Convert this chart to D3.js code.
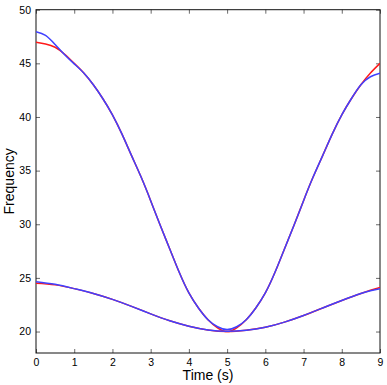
<!DOCTYPE html>
<html>
<head>
<meta charset="utf-8">
<script src="https://cdn.jsdelivr.net/npm/d3@7"></script>
<style>
  html, body { margin: 0; padding: 0; background: #fff; }
  svg { display: block; }
  text { font-family: "Liberation Sans", Arial, Helvetica, sans-serif; fill: #000; }
</style>
</head>
<body>
<svg id="chart" width="387" height="385"></svg>
<script>
// ---- data ----
const timeFine = [0,0.25,0.5,0.75,1,1.25,1.5,1.75,2,2.25,2.5,2.75,3,3.25,3.5,3.75,4,4.25,4.5,4.75,5,
                  5.25,5.5,5.75,6,6.25,6.5,6.75,7,7.25,7.5,7.75,8,8.25,8.5,8.75,9];
const bigRed  = [46.96,46.8,46.5,45.85,45.0,44.1,43.0,41.7,40.2,38.4,36.4,34.4,32.2,29.9,27.7,25.5,23.6,22.2,21.1,20.35,20.0,
                 20.35,21.1,22.2,23.6,25.5,27.7,29.9,32.2,34.4,36.4,38.4,40.2,41.7,43.0,44.1,45.0];
const bigBlue = [47.95,47.6,46.75,45.8,44.95,44.1,43.0,41.7,40.2,38.4,36.4,34.4,32.2,29.9,27.7,25.5,23.6,22.2,21.1,20.45,20.18,
                 20.45,21.1,22.2,23.6,25.5,27.7,29.9,32.2,34.4,36.4,38.4,40.2,41.7,43.0,43.75,44.07];
const timeCoarse = [0,0.5,1,1.5,2,2.5,3,3.5,4,4.5,5,5.5,6,6.5,7,7.5,8,8.5,8.75,9];
const smallRed  = [24.5,24.35,24.0,23.55,23.0,22.35,21.65,21.0,20.5,20.15,20.0,20.12,20.4,20.88,21.5,22.2,22.9,23.55,23.85,24.12];
const smallBlue = [24.65,24.4,24.0,23.55,23.0,22.35,21.65,21.0,20.5,20.15,20.02,20.12,20.4,20.88,21.5,22.2,22.9,23.55,23.8,24.0];
const xTicks = [0,1,2,3,4,5,6,7,8,9];
const yTicks = [20,25,30,35,40,45,50];
const xLabel = "Time (s)";
const yLabel = "Frequency";

// ---- layout ----
const svg = d3.select("#chart");
const L = 36, R = 380, T = 9.7, B = 353;
const x = d3.scaleLinear().domain([0, 9]).range([L, R]);
const y = d3.scaleLinear().domain([18, 50]).range([B, T]);
const tickLen = 4;

// axes
const gx = svg.append("g").attr("transform", `translate(0,${B})`)
  .call(d3.axisBottom(x).tickValues(xTicks).tickSize(-tickLen).tickPadding(6).tickFormat(d3.format("d")));
const gxTop = svg.append("g").attr("transform", `translate(0,${T})`)
  .call(d3.axisTop(x).tickValues(xTicks).tickSize(-tickLen).tickFormat(""));
const gy = svg.append("g").attr("transform", `translate(${L},0)`)
  .call(d3.axisLeft(y).tickValues(yTicks).tickSize(-tickLen).tickPadding(5).tickFormat(d3.format("d")));
const gyR = svg.append("g").attr("transform", `translate(${R},0)`)
  .call(d3.axisRight(y).tickValues(yTicks).tickSize(-tickLen).tickFormat(""));

[gx, gxTop, gy, gyR].forEach(g => {
  g.select(".domain").remove();
  g.selectAll(".tick line").attr("stroke", "#444").attr("stroke-width", 0.8);
  g.selectAll(".tick text").attr("font-size", 10.5).attr("fill", "#000")
    .style("font-family", "'Liberation Sans', Arial, sans-serif");
});

// box
svg.append("rect").attr("x", L).attr("y", T).attr("width", R - L).attr("height", B - T)
  .attr("fill", "none").attr("stroke", "#111").attr("stroke-width", 1);

// lines
svg.append("clipPath").attr("id", "clip").append("rect")
  .attr("x", L).attr("y", T).attr("width", R - L).attr("height", B - T);
const line = d3.line().x(d => x(d[0])).y(d => y(d[1])).curve(d3.curveNatural);
const plot = svg.append("g").attr("clip-path", "url(#clip)");
const series = [
  { t: timeFine, v: bigRed, c: "#ff1a1a" },
  { t: timeCoarse, v: smallRed, c: "#ff1a1a" },
  { t: timeFine, v: bigBlue, c: "#4040ff" },
  { t: timeCoarse, v: smallBlue, c: "#4040ff" }
];
series.forEach(s => {
  plot.append("path").datum(s.t.map((t, i) => [t, s.v[i]]))
    .attr("fill", "none").attr("stroke", s.c).attr("stroke-width", 1.5).attr("d", line);
});

// axis labels
svg.append("text").attr("x", (L + R) / 2).attr("y", 380).attr("text-anchor", "middle")
  .attr("font-size", 14).text(xLabel);
svg.append("text").attr("transform", `translate(14,${(T + B) / 2}) rotate(-90)`)
  .attr("text-anchor", "middle").attr("font-size", 14).text(yLabel);
</script>
</body>
</html>
